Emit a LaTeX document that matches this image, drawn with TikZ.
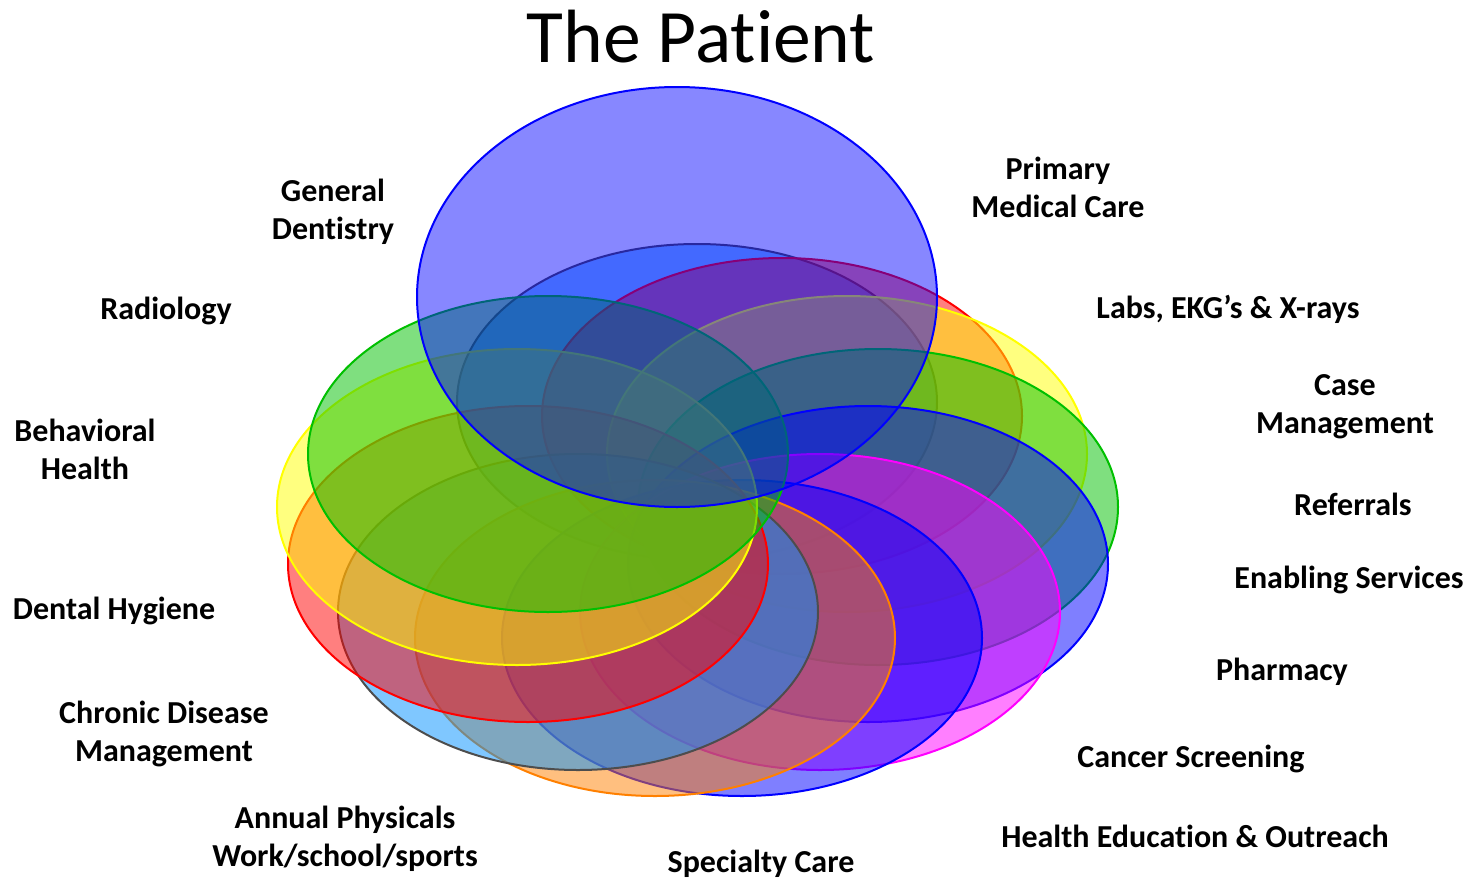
\documentclass[tikz,border=0pt]{standalone}
\usepackage{fontspec}
\setmainfont{Carlito}[Ligatures={NoCommon}]
\begin{document}
\begin{tikzpicture}[x=1pt,y=-1pt,
  ell/.style={line width=2pt, fill opacity=0.5, draw opacity=1},
  lab/.style={font=\fontsize{32}{38}\selectfont\bfseries, align=center, inner sep=0pt, anchor=center},
]
\definecolor{cgreen}{RGB}{0,192,0}
\definecolor{cyellow}{RGB}{255,255,0}
\definecolor{cred}{RGB}{255,0,0}
\definecolor{csky}{RGB}{0,145,255}
\definecolor{cgrey}{RGB}{77,77,77}
\definecolor{corange}{RGB}{255,128,0}
\definecolor{cblue}{RGB}{0,0,255}
\definecolor{cmag}{RGB}{255,0,255}
\useasboundingbox (0,0) rectangle (1476,878);
\fill[white] (0,0) rectangle (1476,878);
% ring of ellipses, back to front
\draw[ell, draw=cgrey, fill=csky]     (697,402) ellipse [x radius=240, y radius=158];
\draw[ell, draw=cred, fill=cred]      (782,416) ellipse [x radius=240, y radius=158];
\draw[ell, draw=cyellow, fill=cyellow](847,454) ellipse [x radius=240, y radius=158];
\draw[ell, draw=cgreen, fill=cgreen]  (878,507) ellipse [x radius=240, y radius=158];
\draw[ell, draw=cblue, fill=cblue]    (868,564) ellipse [x radius=240, y radius=158];
\draw[ell, draw=cmag, fill=cmag]      (820,612) ellipse [x radius=240, y radius=158];
\draw[ell, draw=cblue, fill=cblue]    (742,638) ellipse [x radius=240, y radius=158];
\draw[ell, draw=corange, fill=corange](655,638) ellipse [x radius=240, y radius=158];
\draw[ell, draw=cgrey, fill=csky]     (578,612) ellipse [x radius=240, y radius=158];
\draw[ell, draw=cred, fill=cred]      (528,564) ellipse [x radius=240, y radius=158];
\draw[ell, draw=cyellow, fill=cyellow](517,507) ellipse [x radius=240, y radius=158];
\draw[ell, draw=cgreen, fill=cgreen]  (548,454) ellipse [x radius=240, y radius=158];
\draw[ell, draw=cblue, fill=cblue, fill opacity=0.47] (677,297) ellipse [x radius=260, y radius=210];
% title
\node[font=\fontsize{75.5}{80}\selectfont, inner sep=0pt] (title) at (701,37) {The Patient};
% labels
\node[lab] (dent) at (333,212) {General\\Dentistry};
\node[lab] (prim) at (1058,187) {Primary\\Medical Care};
\node[lab] (radio) at (166,311) {Radiology};
\node[lab] (labs) at (1228,309) {Labs, EKG’s \& X-rays};
\node[lab] (behav) at (85,449) {Behavioral\\Health};
\node[lab] (case) at (1345,407) {Case\\Management};
\node[lab] (ref) at (1353,504) {Referrals};
\node[lab] (enab) at (1349,580) {Enabling Services};
\node[lab] (hyg) at (114,611) {Dental Hygiene};
\node[lab] (pharm) at (1282,672) {Pharmacy};
\node[lab] (chron) at (164,734) {Chronic Disease\\Management};
\node[lab] (canc) at (1191,759) {Cancer Screening};
\node[lab] (phys) at (345,839) {Annual Physicals\\Work/school/sports};
\node[lab] (spec) at (761,864) {Specialty Care};
\node[lab] (hed) at (1195,836) {Health Education \& Outreach};
\end{tikzpicture}
\end{document}
